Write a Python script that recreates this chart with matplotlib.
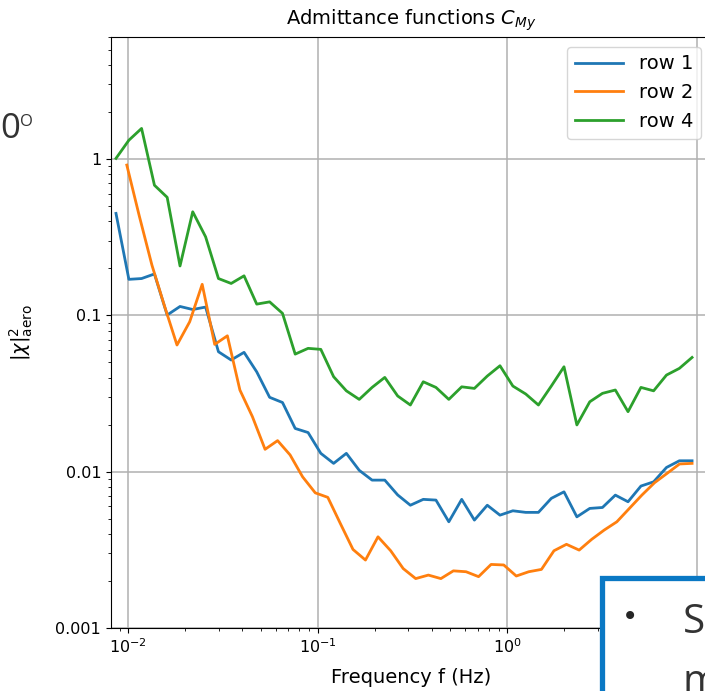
import matplotlib
matplotlib.use("Agg")
import matplotlib.pyplot as plt
from matplotlib.ticker import FuncFormatter, LogLocator
from matplotlib.patches import Rectangle

# frequency grids (Hz)
freq = [0.00861, 0.01007, 0.01175, 0.01374, 0.01604, 0.01875, 0.02188, 0.02559,
        0.02992, 0.03491, 0.04083, 0.04764, 0.05572, 0.06516, 0.07603, 0.08892,
        0.1038, 0.1213, 0.1416, 0.1656, 0.1936, 0.2259, 0.2642, 0.3083,
        0.3606, 0.4207, 0.4920, 0.5754, 0.6714, 0.7852, 0.9162, 1.0715,
        1.253, 1.462, 1.710, 1.995, 2.333, 2.729, 3.184, 3.724,
        4.345, 5.082, 5.929, 6.934, 8.110, 9.462]

freq_row2 = [0.00982, 0.01143, 0.01332, 0.01552, 0.01807, 0.02109, 0.02455, 0.02858,
             0.03334, 0.03882, 0.04519, 0.05272, 0.06138, 0.07145, 0.08318, 0.09705,
             0.1130, 0.1315, 0.1535, 0.1786, 0.2080, 0.2427, 0.2825, 0.3289,
             0.3837, 0.4467, 0.5200, 0.6067, 0.7063, 0.8222, 0.9594, 1.117,
             1.300, 1.517, 1.766, 2.056, 2.399, 2.793, 3.251, 3.793,
             4.416, 5.140, 5.998, 6.982, 8.128, 9.462]

row1 = [0.449, 0.170, 0.172, 0.184, 0.1005, 0.114, 0.109, 0.113,
        0.0585, 0.0518, 0.058, 0.0435, 0.0299, 0.0277, 0.0189, 0.0178,
        0.0131, 0.0113, 0.0131, 0.0102, 0.00883, 0.00883, 0.0071, 0.0061,
        0.00665, 0.00658, 0.00478, 0.00665, 0.0049, 0.0061, 0.00527, 0.00562,
        0.00549, 0.00549, 0.00675, 0.00743, 0.00514, 0.00582, 0.0059, 0.00708,
        0.00642, 0.00809, 0.00861, 0.01064, 0.01174, 0.01174]

row2 = [0.915, 0.432, 0.210, 0.115, 0.0646, 0.091, 0.158, 0.0652,
        0.074, 0.0333, 0.0225, 0.0139, 0.0158, 0.0128, 0.00927, 0.00732,
        0.00685, 0.00467, 0.00318, 0.00272, 0.00383, 0.00312, 0.0024, 0.00207,
        0.00218, 0.00207, 0.00232, 0.00229, 0.00213, 0.00255, 0.00253, 0.00215,
        0.00229, 0.00237, 0.00312, 0.00343, 0.00315, 0.00369, 0.00423, 0.00478,
        0.00582, 0.00708, 0.0085, 0.00975, 0.0112, 0.0113]

row4 = [1.01, 1.32, 1.57, 0.68, 0.569, 0.207, 0.46, 0.318,
        0.172, 0.160, 0.179, 0.118, 0.122, 0.103, 0.0565, 0.0615,
        0.0606, 0.0405, 0.0329, 0.0290, 0.0346, 0.0401, 0.0305, 0.0267,
        0.0376, 0.0346, 0.0290, 0.0349, 0.0341, 0.0409, 0.0476, 0.0353,
        0.0314, 0.0267, 0.0353, 0.0469, 0.0199, 0.0280, 0.0317, 0.0333,
        0.0242, 0.0346, 0.0329, 0.0415, 0.0458, 0.0538]

fig = plt.figure(figsize=(7.05, 6.91), dpi=100)
ax = fig.add_axes([0.1574, 0.0912, 0.851, 0.8553])

ax.plot(freq, row1, color='#1f77b4', lw=2, label='row 1')
ax.plot(freq_row2, row2, color='#ff7f0e', lw=2, label='row 2')
ax.plot(freq, row4, color='#2ca02c', lw=2, label='row 4')

ax.set_xscale('log')
ax.set_yscale('log')
ax.set_xlim(0.0081, 11.9)
ax.set_ylim(0.001, 6.04)
ax.yaxis.set_major_locator(LogLocator(base=10))
ax.yaxis.set_major_formatter(FuncFormatter(lambda v, p: f'{v:g}'))
ax.tick_params(labelsize=11.5)
ax.grid(True, which='major', color='#b0b0b0', lw=1.1)

ax.set_title('Admittance functions $C_{My}$', fontsize=14, pad=9)
ax.set_xlabel('Frequency f (Hz)', fontsize=14, labelpad=8)
ax.set_ylabel(r'$|\chi|^2_{\mathrm{aero}}$', fontsize=14, labelpad=15)
ax.legend(loc='upper right', fontsize=14, handlelength=2.5)

# pieces of the slide around the chart
fig.text(0.0, 0.80, '0', fontsize=25, family='Open Sans', color='#333333',
         ha='left', va='baseline')
fig.text(0.029, 0.818, 'O', fontsize=12, family='Open Sans', color='#333333',
         ha='left', va='baseline')

box = Rectangle((602 / 705, -0.05), 0.2, (691 - 578) / 691 + 0.05,
                transform=fig.transFigure, facecolor='white',
                edgecolor='#0A78C4', lw=3.8, zorder=10, clip_on=False)
fig.patches.append(box)
fig.text(622 / 705, 1 - 617 / 691, '•', fontsize=20, color='#262626',
         va='center', ha='left', zorder=11)
fig.text(683 / 705, 1 - 633 / 691, 'S', fontsize=29, family='Open Sans',
         color='#333333', va='baseline', ha='left', zorder=11)
fig.text(683 / 705, 1 - 693 / 691, 'm', fontsize=29, family='Open Sans',
         color='#333333', va='baseline', ha='left', zorder=11)

fig.savefig('out.png', dpi=100)
